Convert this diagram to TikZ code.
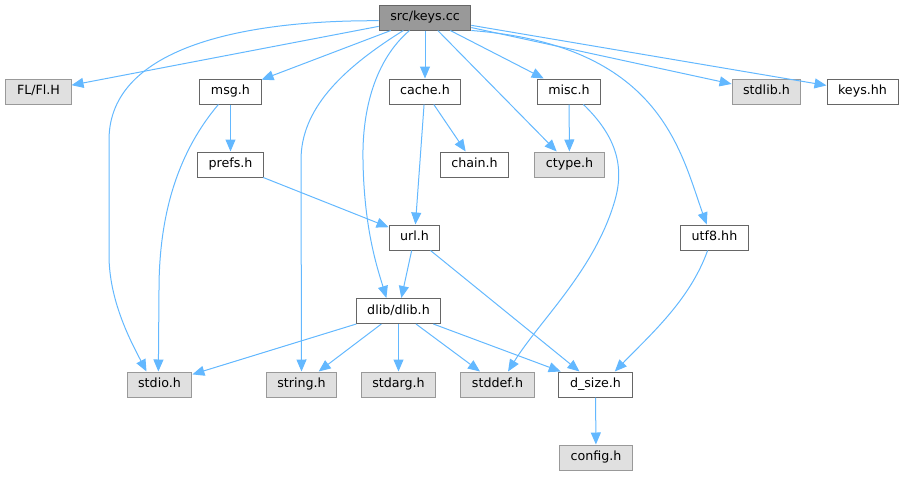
\documentclass[tikz,border=0pt]{standalone}
\usepackage{fontspec}
\setmainfont{DejaVu Sans}
\usetikzlibrary{arrows.meta}

\definecolor{edgeblue}{HTML}{63B8FF}
\definecolor{sysfill}{HTML}{E0E0E0}
\definecolor{sysline}{HTML}{999999}
\definecolor{rootfill}{HTML}{999999}
\definecolor{hdrline}{HTML}{666666}

\tikzset{
  hdr/.style={draw=hdrline, fill=white, line width=0.75pt, inner xsep=8.3pt, inner ysep=0pt,
    minimum height=18.75pt, text height=7pt, text depth=2pt, font=\fontsize{9.5}{11}\selectfont},
  syshdr/.style={hdr, draw=sysline, fill=sysfill},
  roothdr/.style={hdr, fill=rootfill},
  dep/.style={draw=edgeblue, line width=0.75pt, -{Triangle[length=9pt,width=7.5pt]}},
}

\begin{document}
\begin{tikzpicture}[x=0.75pt,y=-0.75pt]
  \useasboundingbox (0,0) rectangle (904,476);

  \node[roothdr] (keys) at (425,17.5) {src/keys.cc};
  \node[syshdr] (fl) at (38.5,91.5) {FL/Fl.H};
  \node[hdr] (msg) at (230.5,91.5) {msg.h};
  \node[hdr] (cache) at (425,91.5) {cache.h};
  \node[hdr] (misc) at (569,91.5) {misc.h};
  \node[syshdr] (stdlib) at (766.5,91.5) {stdlib.h};
  \node[hdr] (keyshh) at (862.5,91.5) {keys.hh};
  \node[hdr] (prefs) at (230.5,164.5) {prefs.h};
  \node[hdr] (chain) at (474.5,164.5) {chain.h};
  \node[syshdr] (ctype) at (569.5,164.5) {ctype.h};
  \node[hdr] (url) at (414.5,237.5) {url.h};
  \node[hdr] (utf8) at (714.5,237.5) {utf8.hh};
  \node[hdr] (dlib) at (398.5,311) {dlib/dlib.h};
  \node[syshdr] (stdio) at (159.5,384.5) {stdio.h};
  \node[syshdr] (string) at (301.5,384.5) {string.h};
  \node[syshdr] (stdarg) at (398.5,384.5) {stdarg.h};
  \node[syshdr] (stddef) at (497.5,384.5) {stddef.h};
  \node[hdr] (dsize) at (595.5,384.5) {d\_size.h};
  \node[syshdr] (config) at (596,457.5) {config.h};

  \draw[dep] (keys) -- (fl);
  \draw[dep] (keys.184) .. controls (250,20) and (109,45) .. (109,140) -- (109,255)
    .. controls (109,300) and (130,340) .. (stdio.135);
  \draw[dep] (keys) -- (msg);
  \draw[dep] (keys.211) .. controls (340,70) and (301,110) .. (301,160) -- (string.north);
  \draw[dep] (keys.220) .. controls (375,60) and (362,110) .. (363,160)
    .. controls (364,230) and (378,270) .. (dlib.133);
  \draw[dep] (keys) -- (cache);
  \draw[dep] (keys) -- (ctype);
  \draw[dep] (keys) -- (misc);
  \draw[dep] (keys.south east) .. controls (660,45) and (680,150) .. (utf8.121);
  \draw[dep] (keys) -- (stdlib);
  \draw[dep] (keys) -- (keyshh);

  \draw[dep] (msg) -- (prefs);
  \draw[dep] (msg.227) .. controls (180,150) and (159,210) .. (159,290) -- (stdio.95);
  \draw[dep] (prefs) -- (url);
  \draw[dep] (cache) -- (url);
  \draw[dep] (cache) -- (chain);
  \draw[dep] (misc) -- (ctype);
  \draw[dep] (misc.318) .. controls (615,135) and (625,165) .. (615,200)
    .. controls (595,270) and (540,320) .. (stddef.51);
  \draw[dep] (url) -- (dlib);
  \draw[dep] (url) -- (dsize);
  \draw[dep] (utf8.242) .. controls (690,300) and (650,335) .. (dsize.34);

  \draw[dep] (dlib) -- (stdio);
  \draw[dep] (dlib) -- (string);
  \draw[dep] (dlib) -- (stdarg);
  \draw[dep] (dlib) -- (stddef);
  \draw[dep] (dlib) -- (dsize);
  \draw[dep] (dsize) -- (config);
\end{tikzpicture}
\end{document}
